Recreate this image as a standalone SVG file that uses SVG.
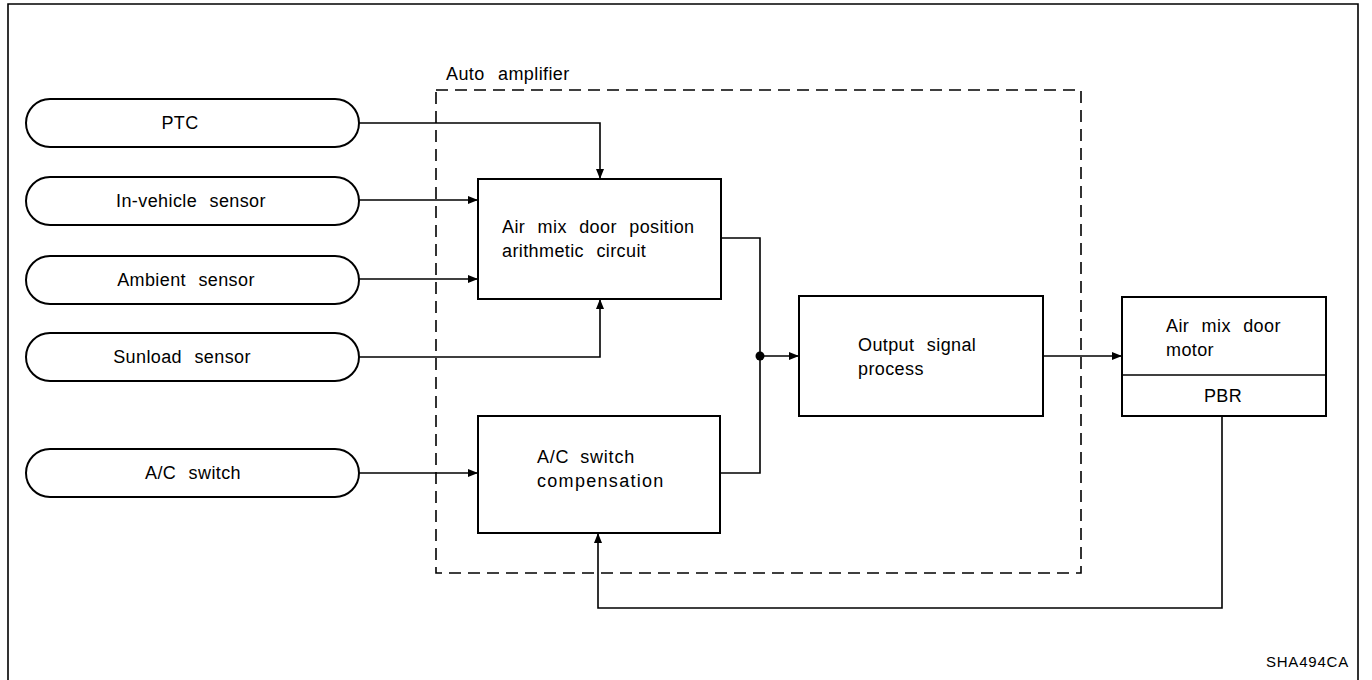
<svg xmlns="http://www.w3.org/2000/svg" width="1372" height="680" viewBox="0 0 1372 680">
<style>
.ln{fill:none;stroke:#000;stroke-width:1.6}
.bx{fill:#fff;stroke:#000;stroke-width:2}
.t{font-family:"Liberation Sans",Arial,sans-serif;font-size:18px;fill:#000;word-spacing:7px;letter-spacing:0.4px}
.tc{text-anchor:middle}
</style>
<defs>
<marker id="ah" viewBox="0 0 10 8" refX="10" refY="4" markerWidth="10" markerHeight="8" markerUnits="userSpaceOnUse" orient="auto">
<path d="M0,0 L10,4 L0,8 Z" fill="#000"/>
</marker>
</defs>
<rect width="1372" height="680" fill="#fff"/>
<path d="M8,680 V4 H1358 V680" class="ln" stroke-width="2"/>
<g id="amp">
<rect x="436" y="90" width="645" height="483" fill="none" stroke="#000" stroke-width="1.6" stroke-dasharray="12,7"/>
<text x="446" y="80" class="t" style="word-spacing:8px">Auto amplifier</text>
</g>
<g id="connectors">
<path d="M359,123 H600 V179" class="ln" marker-end="url(#ah)"/>
<path d="M359,200 H478" class="ln" marker-end="url(#ah)"/>
<path d="M359,279 H478" class="ln" marker-end="url(#ah)"/>
<path d="M359,357 H600 V299" class="ln" marker-end="url(#ah)"/>
<path d="M359,473 H478" class="ln" marker-end="url(#ah)"/>
<path d="M721,238 H760 V473 H720" class="ln"/>
<path d="M760,356 H799" class="ln" marker-end="url(#ah)"/>
<circle cx="760" cy="356" r="4.5" fill="#000"/>
<path d="M1043,356 H1122" class="ln" marker-end="url(#ah)"/>
<path d="M1222,416 V608 H598 V533" class="ln" marker-end="url(#ah)"/>
</g>
<g id="ptc"><rect x="26" y="99" width="333" height="48" rx="24" class="bx"/><text x="180" y="129" class="t tc">PTC</text></g>
<g id="invehicle"><rect x="26" y="177" width="333" height="48" rx="24" class="bx"/><text x="191" y="207" class="t tc">In-vehicle sensor</text></g>
<g id="ambient"><rect x="26" y="256" width="333" height="48" rx="24" class="bx"/><text x="186" y="286" class="t tc">Ambient sensor</text></g>
<g id="sunload"><rect x="26" y="333" width="333" height="48" rx="24" class="bx"/><text x="182" y="363" class="t tc">Sunload sensor</text></g>
<g id="acswitch"><rect x="26" y="449" width="333" height="48" rx="24" class="bx"/><text x="193" y="479" class="t tc">A/C switch</text></g>
<g id="airmix"><rect x="478" y="179" width="243" height="120" class="bx"/>
<text x="502" y="233" class="t">Air mix door position</text><text x="502" y="257" class="t">arithmetic circuit</text></g>
<g id="acomp"><rect x="478" y="416" width="242" height="117" class="bx"/>
<text x="537" y="463" class="t" style="letter-spacing:0.8px;word-spacing:5px">A/C switch</text><text x="537" y="487" class="t" style="letter-spacing:1.3px">compensation</text></g>
<g id="output"><rect x="799" y="296" width="244" height="120" class="bx"/>
<text x="858" y="351" class="t">Output signal</text><text x="858" y="375" class="t">process</text></g>
<g id="motor"><rect x="1122" y="297" width="204" height="119" class="bx"/>
<line x1="1122" y1="375" x2="1326" y2="375" class="ln" stroke-width="2"/>
<text x="1166" y="332" class="t">Air mix door</text><text x="1166" y="356" class="t">motor</text>
<text x="1223" y="402" class="t tc">PBR</text></g>
<text x="1349" y="667" class="t" style="font-size:15px;text-anchor:end;word-spacing:0;letter-spacing:0.8px">SHA494CA</text>
</svg>
